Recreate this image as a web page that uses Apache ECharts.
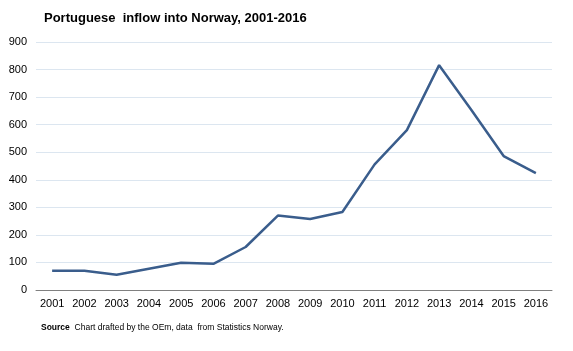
<!DOCTYPE html>
<html>
<head>
<meta charset="utf-8">
<script src="https://cdn.jsdelivr.net/npm/echarts@6/dist/echarts.min.js"></script>
<style>
  html, body { margin: 0; padding: 0; background: #fff; }
  #chart { width: 573px; height: 351px; }
</style>
</head>
<body>
<div id="chart"></div>
<script>
var years = ['2001', '2002', '2003', '2004', '2005', '2006', '2007', '2008',
  '2009', '2010', '2011', '2012', '2013', '2014', '2015', '2016']
var inflow = [70, 70, 55, 77, 99, 95, 156, 270, 258, 283, 456, 580, 816, 653, 486, 424]
var yTicks = [0, 100, 200, 300, 400, 500, 600, 700, 800, 900]

var chart = echarts.init(document.getElementById('chart'))
chart.setOption({
  animation: false,
  textStyle: { fontFamily: 'Liberation Sans, Arial, sans-serif' },
  title: [{
    text: 'Portuguese  inflow into Norway, 2001-2016',
    left: 39,
    top: 7,
    textStyle: { fontSize: 13, fontWeight: 'bold', color: '#000' }
  }, {
    text: '{b|Source}  Chart drafted by the OEm, data  from Statistics Norway.',
    left: 36,
    top: 318,
    textStyle: {
      fontSize: 8.5,
      fontWeight: 'normal',
      color: '#000',
      rich: { b: { fontSize: 8.5, fontWeight: 'bold', color: '#000' } }
    }
  }],
  grid: { left: 36, right: 21, top: 42, bottom: 61 },
  xAxis: {
    type: 'category',
    data: years,
    boundaryGap: true,
    axisLine: { lineStyle: { color: '#808080', width: 1 } },
    axisTick: { show: false },
    axisLabel: { color: '#000', fontSize: 11, margin: 8, interval: 0 }
  },
  yAxis: {
    type: 'value',
    min: yTicks[0],
    max: yTicks[yTicks.length - 1],
    interval: 100,
    axisLine: { show: false },
    axisTick: { show: false },
    axisLabel: { color: '#000', fontSize: 11, margin: 9 },
    splitLine: { lineStyle: { color: '#dce6f0', width: 1 } }
  },
  series: [{
    type: 'line',
    data: inflow,
    symbol: 'none',
    lineStyle: { color: '#3a5d8c', width: 2.5 },
    itemStyle: { color: '#3a5d8c' }
  }]
})
</script>
</body>
</html>
